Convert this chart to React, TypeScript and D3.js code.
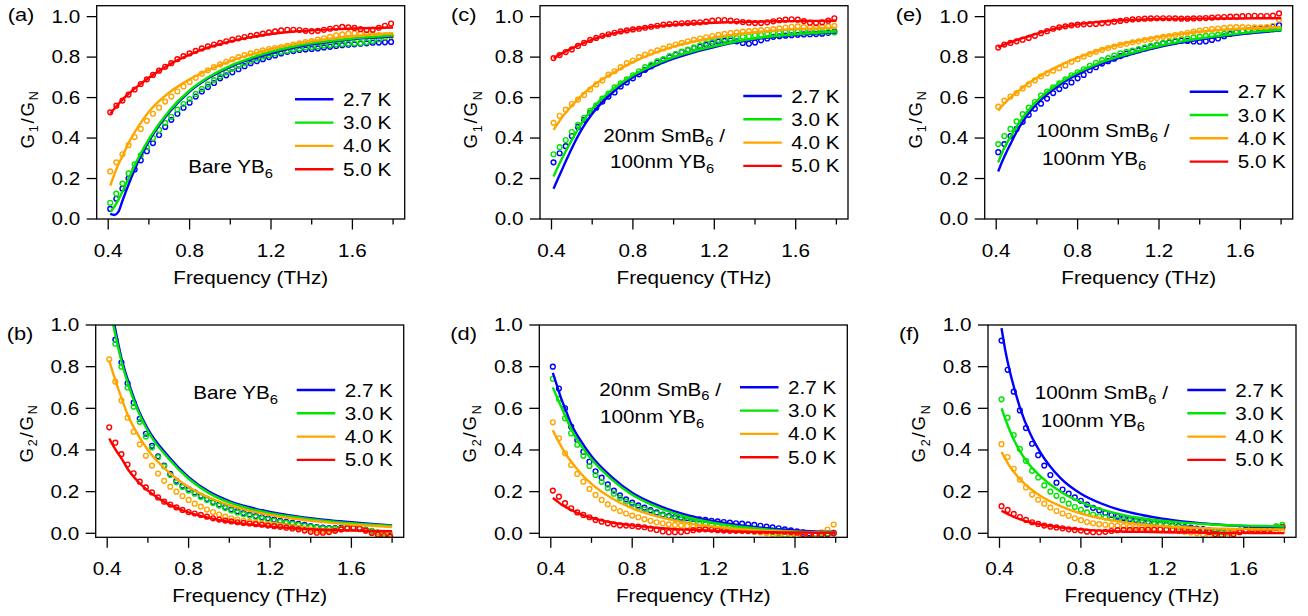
import React from "react";
import * as d3 from "d3";

// measured frequencies of the data points (THz)
const freq = [0.41, 0.44, 0.47, 0.50, 0.53, 0.56, 0.59, 0.62, 0.65, 0.68, 0.71, 0.74, 0.77, 0.80, 0.83, 0.86, 0.89, 0.92, 0.95, 0.98, 1.01, 1.04, 1.07, 1.10, 1.13, 1.16, 1.19, 1.22, 1.25, 1.28, 1.31, 1.34, 1.37, 1.40, 1.43, 1.46, 1.49, 1.52, 1.55, 1.58, 1.61, 1.64, 1.67, 1.70, 1.73, 1.76, 1.79];
// frequencies at which the fit curves are sampled
const fitFreq = [0.41, 0.43, 0.45, 0.47, 0.5, 0.55, 0.6, 0.7, 0.8, 0.9, 1.0, 1.1, 1.2, 1.3, 1.4, 1.5, 1.6, 1.7, 1.8];

const temps = ["2.7 K", "3.0 K", "4.0 K", "5.0 K"];
const colors = ["#0000ff", "#00e600", "#ffa500", "#ff0000"];
const xTicks = [0.4, 0.8, 1.2, 1.6];
const xMinor = [0.6, 1.0, 1.4, 1.8];
const yTicks = [0, 0.2, 0.4, 0.6, 0.8, 1.0];

// (a) G1/GN bare YB6
const a27 = [0.05, 0.10, 0.15, 0.20, 0.245, 0.29, 0.335, 0.375, 0.415, 0.455, 0.49, 0.52, 0.55, 0.575, 0.605, 0.63, 0.652, 0.672, 0.695, 0.71, 0.725, 0.74, 0.755, 0.77, 0.78, 0.79, 0.80, 0.808, 0.818, 0.826, 0.83, 0.835, 0.838, 0.84, 0.843, 0.848, 0.851, 0.855, 0.859, 0.861, 0.863, 0.866, 0.868, 0.871, 0.872, 0.873, 0.875];
const a30 = [0.08, 0.125, 0.175, 0.225, 0.27, 0.315, 0.355, 0.40, 0.44, 0.475, 0.505, 0.54, 0.568, 0.593, 0.618, 0.643, 0.665, 0.686, 0.705, 0.725, 0.742, 0.757, 0.77, 0.782, 0.793, 0.803, 0.81, 0.818, 0.826, 0.832, 0.838, 0.843, 0.847, 0.85, 0.853, 0.857, 0.86, 0.863, 0.865, 0.867, 0.868, 0.87, 0.874, 0.88, 0.888, 0.897, 0.904];
const a40 = [0.235, 0.28, 0.32, 0.365, 0.405, 0.445, 0.485, 0.52, 0.55, 0.58, 0.605, 0.63, 0.655, 0.677, 0.698, 0.718, 0.735, 0.75, 0.764, 0.777, 0.789, 0.80, 0.81, 0.818, 0.826, 0.833, 0.84, 0.845, 0.85, 0.856, 0.862, 0.868, 0.874, 0.879, 0.886, 0.893, 0.90, 0.907, 0.912, 0.916, 0.917, 0.916, 0.914, 0.911, 0.909, 0.907, 0.905];
const a50 = [0.527, 0.56, 0.585, 0.615, 0.64, 0.667, 0.69, 0.712, 0.733, 0.752, 0.77, 0.79, 0.805, 0.818, 0.831, 0.843, 0.853, 0.862, 0.87, 0.878, 0.886, 0.893, 0.899, 0.905, 0.91, 0.916, 0.922, 0.927, 0.932, 0.935, 0.935, 0.934, 0.93, 0.928, 0.93, 0.935, 0.94, 0.945, 0.949, 0.947, 0.944, 0.938, 0.934, 0.935, 0.945, 0.955, 0.966];
const aFit27 = [0.025, 0.02, 0.035, 0.09, 0.17, 0.29, 0.385, 0.528, 0.63, 0.70, 0.752, 0.79, 0.82, 0.845, 0.863, 0.877, 0.888, 0.896, 0.902];
const aFit30 = [0.035, 0.06, 0.095, 0.135, 0.2, 0.305, 0.395, 0.535, 0.635, 0.705, 0.757, 0.795, 0.826, 0.85, 0.868, 0.881, 0.892, 0.90, 0.906];
const aFit40 = [0.165, 0.22, 0.27, 0.31, 0.375, 0.46, 0.53, 0.625, 0.69, 0.74, 0.78, 0.812, 0.84, 0.862, 0.878, 0.892, 0.903, 0.912, 0.918];
const aFit50 = [0.52, 0.545, 0.568, 0.59, 0.618, 0.66, 0.698, 0.763, 0.812, 0.85, 0.878, 0.899, 0.914, 0.925, 0.932, 0.937, 0.941, 0.944, 0.946];

// (c) G1/GN 20nm SmB6 / 100nm YB6
const c27 = [0.28, 0.325, 0.36, 0.41, 0.455, 0.49, 0.525, 0.55, 0.58, 0.605, 0.625, 0.655, 0.675, 0.695, 0.715, 0.737, 0.755, 0.772, 0.785, 0.80, 0.812, 0.825, 0.835, 0.845, 0.852, 0.86, 0.868, 0.876, 0.88, 0.882, 0.878, 0.87, 0.866, 0.872, 0.883, 0.892, 0.90, 0.903, 0.906, 0.908, 0.91, 0.912, 0.913, 0.914, 0.916, 0.92, 0.926];
const c30 = [0.32, 0.355, 0.39, 0.43, 0.465, 0.50, 0.535, 0.562, 0.595, 0.62, 0.65, 0.67, 0.69, 0.71, 0.73, 0.75, 0.763, 0.78, 0.79, 0.805, 0.815, 0.827, 0.837, 0.848, 0.858, 0.868, 0.877, 0.885, 0.888, 0.892, 0.895, 0.90, 0.903, 0.907, 0.91, 0.915, 0.918, 0.92, 0.922, 0.924, 0.926, 0.926, 0.926, 0.926, 0.926, 0.925, 0.922];
const c40 = [0.475, 0.51, 0.54, 0.568, 0.59, 0.613, 0.64, 0.665, 0.685, 0.713, 0.73, 0.75, 0.77, 0.783, 0.80, 0.812, 0.823, 0.833, 0.843, 0.853, 0.862, 0.87, 0.878, 0.885, 0.892, 0.898, 0.904, 0.91, 0.915, 0.919, 0.922, 0.926, 0.928, 0.931, 0.933, 0.935, 0.938, 0.942, 0.946, 0.95, 0.952, 0.948, 0.946, 0.947, 0.95, 0.952, 0.954];
const c50 = [0.795, 0.81, 0.825, 0.838, 0.855, 0.87, 0.885, 0.895, 0.905, 0.913, 0.92, 0.927, 0.932, 0.937, 0.94, 0.945, 0.95, 0.955, 0.96, 0.963, 0.965, 0.967, 0.968, 0.97, 0.972, 0.975, 0.98, 0.983, 0.983, 0.98, 0.977, 0.973, 0.97, 0.968, 0.968, 0.972, 0.977, 0.982, 0.985, 0.987, 0.985, 0.978, 0.97, 0.968, 0.972, 0.98, 0.992];
const cFit27 = [0.15, 0.195, 0.24, 0.285, 0.35, 0.445, 0.52, 0.625, 0.70, 0.752, 0.792, 0.824, 0.85, 0.872, 0.888, 0.90, 0.91, 0.917, 0.923];
const cFit30 = [0.21, 0.255, 0.295, 0.335, 0.39, 0.475, 0.545, 0.64, 0.71, 0.76, 0.80, 0.83, 0.855, 0.876, 0.892, 0.904, 0.913, 0.92, 0.926];
const cFit40 = [0.44, 0.47, 0.50, 0.525, 0.56, 0.612, 0.655, 0.72, 0.775, 0.818, 0.852, 0.877, 0.897, 0.912, 0.923, 0.932, 0.938, 0.942, 0.945];
const cFit50 = [0.795, 0.806, 0.818, 0.828, 0.843, 0.866, 0.886, 0.916, 0.937, 0.951, 0.96, 0.966, 0.97, 0.973, 0.975, 0.977, 0.978, 0.979, 0.98];

// (e) G1/GN 100nm SmB6 / 100nm YB6
const e27 = [0.33, 0.37, 0.41, 0.445, 0.48, 0.515, 0.545, 0.57, 0.595, 0.622, 0.642, 0.658, 0.675, 0.695, 0.712, 0.735, 0.75, 0.768, 0.78, 0.792, 0.805, 0.817, 0.827, 0.834, 0.843, 0.85, 0.86, 0.868, 0.873, 0.877, 0.881, 0.88, 0.877, 0.876, 0.878, 0.885, 0.892, 0.903, 0.915, 0.922, 0.928, 0.933, 0.937, 0.94, 0.943, 0.95, 0.958];
const e30 = [0.37, 0.41, 0.445, 0.482, 0.518, 0.55, 0.578, 0.61, 0.63, 0.65, 0.67, 0.69, 0.71, 0.725, 0.74, 0.757, 0.772, 0.785, 0.795, 0.808, 0.818, 0.826, 0.832, 0.84, 0.848, 0.855, 0.862, 0.869, 0.875, 0.881, 0.887, 0.892, 0.897, 0.901, 0.905, 0.908, 0.911, 0.915, 0.92, 0.924, 0.928, 0.931, 0.932, 0.933, 0.935, 0.937, 0.939];
const e40 = [0.555, 0.585, 0.605, 0.622, 0.645, 0.665, 0.685, 0.705, 0.72, 0.733, 0.745, 0.76, 0.777, 0.79, 0.803, 0.815, 0.826, 0.836, 0.845, 0.852, 0.86, 0.866, 0.873, 0.878, 0.884, 0.889, 0.894, 0.90, 0.904, 0.909, 0.914, 0.92, 0.926, 0.931, 0.935, 0.938, 0.941, 0.944, 0.947, 0.948, 0.948, 0.947, 0.947, 0.947, 0.948, 0.955, 0.985];
const e50 = [0.847, 0.862, 0.87, 0.878, 0.886, 0.895, 0.905, 0.918, 0.928, 0.94, 0.947, 0.952, 0.957, 0.96, 0.962, 0.963, 0.964, 0.967, 0.97, 0.975, 0.979, 0.983, 0.986, 0.988, 0.99, 0.991, 0.992, 0.992, 0.992, 0.991, 0.99, 0.99, 0.991, 0.992, 0.993, 0.995, 0.997, 0.998, 1.0, 1.0, 1.002, 1.003, 1.004, 1.003, 1.003, 1.005, 1.016];
const eFit27 = [0.235, 0.285, 0.33, 0.37, 0.43, 0.51, 0.57, 0.655, 0.715, 0.76, 0.795, 0.825, 0.85, 0.87, 0.887, 0.901, 0.913, 0.923, 0.932];
const eFit30 = [0.28, 0.33, 0.37, 0.405, 0.455, 0.527, 0.584, 0.665, 0.724, 0.768, 0.802, 0.83, 0.855, 0.875, 0.892, 0.905, 0.917, 0.927, 0.935];
const eFit40 = [0.535, 0.56, 0.58, 0.60, 0.625, 0.665, 0.698, 0.753, 0.797, 0.832, 0.86, 0.882, 0.90, 0.914, 0.925, 0.934, 0.94, 0.945, 0.948];
const eFit50 = [0.848, 0.858, 0.866, 0.873, 0.884, 0.90, 0.916, 0.943, 0.962, 0.974, 0.981, 0.985, 0.988, 0.989, 0.99, 0.991, 0.991, 0.992, 0.992];

// (b) G2/GN bare YB6
const b27 = [1.06, 0.93, 0.82, 0.72, 0.627, 0.55, 0.478, 0.42, 0.37, 0.325, 0.285, 0.252, 0.228, 0.212, 0.196, 0.18, 0.165, 0.15, 0.138, 0.126, 0.115, 0.106, 0.097, 0.09, 0.083, 0.077, 0.072, 0.066, 0.06, 0.055, 0.05, 0.045, 0.04, 0.035, 0.03, 0.027, 0.025, 0.025, 0.026, 0.027, 0.028, 0.025, 0.018, 0.01, 0.002, -0.005, -0.012];
const b30 = [1.03, 0.91, 0.80, 0.70, 0.608, 0.535, 0.465, 0.412, 0.365, 0.322, 0.28, 0.245, 0.222, 0.205, 0.19, 0.174, 0.16, 0.146, 0.133, 0.121, 0.11, 0.10, 0.092, 0.085, 0.078, 0.072, 0.066, 0.06, 0.055, 0.05, 0.045, 0.04, 0.035, 0.031, 0.027, 0.024, 0.022, 0.022, 0.023, 0.025, 0.025, 0.022, 0.017, 0.012, 0.005, 0.0, -0.005];
const b40 = [0.835, 0.728, 0.637, 0.555, 0.488, 0.427, 0.372, 0.325, 0.287, 0.252, 0.224, 0.20, 0.179, 0.16, 0.142, 0.128, 0.114, 0.102, 0.09, 0.08, 0.072, 0.066, 0.06, 0.056, 0.052, 0.048, 0.045, 0.042, 0.038, 0.034, 0.03, 0.026, 0.022, 0.018, 0.014, 0.012, 0.012, 0.014, 0.018, 0.022, 0.024, 0.02, 0.012, 0.005, 0.0, -0.003, -0.004];
const b50 = [0.509, 0.435, 0.38, 0.33, 0.288, 0.248, 0.22, 0.196, 0.172, 0.152, 0.138, 0.124, 0.112, 0.102, 0.095, 0.088, 0.08, 0.072, 0.066, 0.061, 0.057, 0.053, 0.05, 0.047, 0.044, 0.041, 0.037, 0.034, 0.031, 0.027, 0.023, 0.019, 0.013, 0.007, 0.003, 0.003, 0.006, 0.012, 0.019, 0.024, 0.026, 0.023, 0.013, 0.002, -0.007, -0.013, -0.016];
const bFit27 = [1.15, 1.03, 0.93, 0.84, 0.74, 0.60, 0.50, 0.37, 0.27, 0.20, 0.155, 0.125, 0.103, 0.086, 0.073, 0.062, 0.053, 0.045, 0.038];
const bFit30 = [1.11, 1.0, 0.91, 0.825, 0.725, 0.59, 0.49, 0.36, 0.262, 0.193, 0.148, 0.118, 0.097, 0.081, 0.068, 0.057, 0.048, 0.041, 0.035];
const bFit40 = [0.83, 0.765, 0.705, 0.65, 0.57, 0.475, 0.40, 0.295, 0.222, 0.172, 0.135, 0.108, 0.088, 0.072, 0.06, 0.05, 0.042, 0.036, 0.03];
const bFit50 = [0.455, 0.42, 0.388, 0.36, 0.31, 0.25, 0.205, 0.14, 0.10, 0.074, 0.055, 0.042, 0.032, 0.025, 0.02, 0.016, 0.013, 0.011, 0.01];

// (d) G2/GN 20nm SmB6 / 100nm YB6
const d27 = [0.80, 0.695, 0.60, 0.512, 0.448, 0.392, 0.344, 0.298, 0.267, 0.235, 0.205, 0.182, 0.163, 0.147, 0.134, 0.123, 0.111, 0.10, 0.09, 0.083, 0.078, 0.075, 0.073, 0.07, 0.067, 0.064, 0.06, 0.057, 0.054, 0.051, 0.048, 0.046, 0.043, 0.04, 0.036, 0.032, 0.028, 0.024, 0.019, 0.014, 0.009, 0.004, 0.0, -0.004, -0.005, -0.004, 0.0];
const d30 = [0.742, 0.645, 0.552, 0.48, 0.425, 0.372, 0.323, 0.28, 0.247, 0.218, 0.19, 0.17, 0.152, 0.138, 0.125, 0.114, 0.104, 0.095, 0.086, 0.078, 0.071, 0.065, 0.06, 0.055, 0.05, 0.045, 0.041, 0.037, 0.033, 0.03, 0.027, 0.024, 0.021, 0.018, 0.014, 0.01, 0.005, 0.0, -0.008, -0.015, -0.012, -0.008, -0.006, -0.004, -0.002, 0.0, 0.002];
const d40 = [0.533, 0.456, 0.384, 0.328, 0.285, 0.248, 0.213, 0.184, 0.16, 0.139, 0.12, 0.107, 0.095, 0.085, 0.077, 0.068, 0.06, 0.053, 0.048, 0.043, 0.04, 0.037, 0.035, 0.032, 0.03, 0.028, 0.025, 0.022, 0.02, 0.017, 0.015, 0.012, 0.01, 0.007, 0.004, 0.0, -0.005, -0.01, -0.015, -0.02, -0.016, -0.012, -0.01, -0.005, 0.005, 0.018, 0.042];
const d50 = [0.205, 0.176, 0.145, 0.12, 0.10, 0.088, 0.077, 0.064, 0.056, 0.048, 0.043, 0.038, 0.037, 0.035, 0.032, 0.029, 0.022, 0.016, 0.009, 0.005, 0.005, 0.006, 0.01, 0.015, 0.018, 0.019, 0.017, 0.015, 0.013, 0.012, 0.012, 0.012, 0.011, 0.01, 0.01, 0.01, 0.01, 0.009, 0.008, 0.006, 0.003, -0.003, -0.008, -0.01, -0.009, -0.006, 0.002];
const dFit27 = [0.77, 0.71, 0.65, 0.60, 0.525, 0.44, 0.37, 0.27, 0.195, 0.145, 0.108, 0.08, 0.058, 0.042, 0.03, 0.021, 0.014, 0.009, 0.006];
const dFit30 = [0.70, 0.655, 0.61, 0.565, 0.50, 0.42, 0.355, 0.258, 0.185, 0.135, 0.098, 0.07, 0.05, 0.035, 0.024, 0.015, 0.009, 0.005, 0.003];
const dFit40 = [0.495, 0.455, 0.42, 0.385, 0.345, 0.285, 0.237, 0.168, 0.12, 0.087, 0.063, 0.045, 0.032, 0.022, 0.015, 0.01, 0.006, 0.003, 0.002];
const dFit50 = [0.17, 0.155, 0.14, 0.128, 0.112, 0.09, 0.074, 0.052, 0.038, 0.028, 0.021, 0.016, 0.012, 0.009, 0.007, 0.005, 0.004, 0.003, 0.002];

// (f) G2/GN 100nm SmB6 / 100nm YB6
const f27 = [0.925, 0.785, 0.68, 0.59, 0.505, 0.43, 0.375, 0.325, 0.28, 0.243, 0.21, 0.19, 0.172, 0.156, 0.138, 0.122, 0.11, 0.098, 0.088, 0.08, 0.074, 0.069, 0.064, 0.059, 0.054, 0.05, 0.046, 0.042, 0.038, 0.034, 0.03, 0.027, 0.023, 0.02, 0.015, 0.01, 0.008, 0.008, 0.01, 0.013, 0.016, 0.018, 0.02, 0.02, 0.022, 0.026, 0.03];
const f30 = [0.643, 0.555, 0.472, 0.405, 0.348, 0.30, 0.268, 0.23, 0.20, 0.18, 0.16, 0.142, 0.126, 0.113, 0.10, 0.09, 0.082, 0.076, 0.071, 0.067, 0.063, 0.059, 0.055, 0.051, 0.047, 0.044, 0.041, 0.038, 0.034, 0.03, 0.026, 0.022, 0.018, 0.015, 0.011, 0.007, 0.005, 0.005, 0.007, 0.01, 0.013, 0.016, 0.018, 0.02, 0.024, 0.034, 0.04];
const f40 = [0.428, 0.366, 0.31, 0.258, 0.22, 0.186, 0.161, 0.142, 0.123, 0.107, 0.095, 0.084, 0.072, 0.063, 0.054, 0.048, 0.044, 0.041, 0.038, 0.036, 0.034, 0.032, 0.03, 0.028, 0.026, 0.024, 0.021, 0.018, 0.015, 0.012, 0.008, 0.004, 0.0, -0.005, -0.01, -0.008, -0.004, 0.0, 0.004, 0.008, 0.01, 0.012, 0.014, 0.015, 0.015, 0.015, 0.015];
const f50 = [0.13, 0.112, 0.093, 0.078, 0.064, 0.053, 0.045, 0.037, 0.032, 0.028, 0.024, 0.019, 0.016, 0.013, 0.008, 0.005, 0.005, 0.007, 0.011, 0.015, 0.016, 0.016, 0.016, 0.017, 0.017, 0.017, 0.018, 0.018, 0.019, 0.02, 0.02, 0.02, 0.018, 0.012, 0.005, -0.003, -0.01, -0.012, -0.005, 0.005, 0.013, 0.02, 0.021, 0.02, 0.022, 0.026, 0.03];
const fFit27 = [0.985, 0.87, 0.78, 0.705, 0.605, 0.48, 0.39, 0.265, 0.19, 0.143, 0.11, 0.088, 0.07, 0.057, 0.047, 0.04, 0.035, 0.031, 0.028];
const fFit30 = [0.60, 0.545, 0.495, 0.45, 0.395, 0.325, 0.275, 0.20, 0.15, 0.115, 0.09, 0.072, 0.06, 0.051, 0.045, 0.04, 0.037, 0.035, 0.033];
const fFit40 = [0.39, 0.355, 0.322, 0.295, 0.26, 0.215, 0.18, 0.13, 0.095, 0.072, 0.055, 0.043, 0.035, 0.029, 0.025, 0.022, 0.02, 0.019, 0.018];
const fFit50 = [0.108, 0.098, 0.088, 0.079, 0.068, 0.053, 0.042, 0.028, 0.019, 0.013, 0.009, 0.007, 0.005, 0.004, 0.003, 0.002, 0.002, 0.001, 0.001];

const FONT = "'Liberation Sans', Arial, Helvetica, sans-serif";
const SX = 1.18; // the original lettering is a bit wide
const FS = 17.5;
const PW = 308;

type Seg = { t: string; sub?: boolean };

const bare: Seg[][] = [[{ t: "Bare YB" }, { t: "6", sub: true }]];
const sm20: Seg[][] = [[{ t: "20nm SmB" }, { t: "6", sub: true }, { t: " /" }], [{ t: "100nm YB" }, { t: "6", sub: true }]];
const sm100: Seg[][] = [[{ t: "100nm SmB" }, { t: "6", sub: true }, { t: " /" }], [{ t: "100nm YB" }, { t: "6", sub: true }]];

const rows = [
  { top: 5.7, bottom: 219, yDomain: [0, 1.054], g: "1", titleY: 119 },
  { top: 325, bottom: 537.3, yDomain: [-0.0192, 1.0], g: "2", titleY: 433 },
];

const panels = [
  { tag: "(a)", row: 0, left: 96.7, pts: [a27, a30, a40, a50], fits: [aFit27, aFit30, aFit40, aFit50], legend: [198.3, 93.6], note: bare, notePos: [[91.6, 167.6]] },
  { tag: "(c)", row: 0, left: 540, pts: [c27, c30, c40, c50], fits: [cFit27, cFit30, cFit40, cFit50], legend: [203.3, 90.3], note: sm20, notePos: [[63.3, 136], [70, 162.6]] },
  { tag: "(e)", row: 0, left: 984.7, pts: [e27, e30, e40, e50], fits: [eFit27, eFit30, eFit40, eFit50], legend: [205, 86], note: sm100, notePos: [[51.6, 131.6], [57.3, 159.3]] },
  { tag: "(b)", row: 1, left: 95.7, pts: [b27, b30, b40, b50], fits: [bFit27, bFit30, bFit40, bFit50], legend: [201, 65], note: bare, notePos: [[97.6, 74]] },
  { tag: "(d)", row: 1, left: 539.3, pts: [d27, d30, d40, d50], fits: [dFit27, dFit30, dFit40, dFit50], legend: [200.7, 62.3], note: sm20, notePos: [[60, 70.7], [60.7, 98.3]] },
  { tag: "(f)", row: 1, left: 988, pts: [f27, f30, f40, f50], fits: [fFit27, fFit30, fFit40, fFit50], legend: [199.3, 65], note: sm100, notePos: [[46.7, 74.3], [52.7, 101.7]] },
];

function segs(list: Seg[]) {
  return list.map((s, i) =>
    s.sub ? (
      <tspan key={i} dy={4.5} fontSize={12.5}>{s.t}</tspan>
    ) : (
      <tspan key={i} dy={i > 0 && list[i - 1].sub ? -4.5 : 0}>{s.t}</tspan>
    )
  );
}

function Txt({ x, y, anchor = "start", size = FS, children }: any) {
  return (
    <text
      transform={`translate(${x},${y}) scale(${SX},1)`}
      textAnchor={anchor}
      fontSize={size}
      fontFamily={FONT}
      style={{ whiteSpace: "pre" }}
      fill="#000"
    >
      {children}
    </text>
  );
}

function Panel({ p, idx }: any) {
  const r = rows[p.row];
  const H = r.bottom - r.top;
  const x = d3.scaleLinear().domain([0.3435, 1.857]).range([0, PW]);
  const y = d3.scaleLinear().domain(r.yDomain).range([H, 0]);
  const line = d3
    .line<number>()
    .x((d, i) => x(fitFreq[i]))
    .y((d) => y(d))
    .curve(d3.curveMonotoneX);
  const clip = `clip-${idx}`;
  const [lx, ly] = p.legend;

  return (
    <g transform={`translate(${p.left},${r.top})`}>
      <defs>
        <clipPath id={clip}>
          <rect x={0} y={0} width={PW} height={H} />
        </clipPath>
      </defs>

      <g clipPath={`url(#${clip})`}>
        {p.pts.map((vals: number[], s: number) => (
          <g key={s} fill="none" stroke={colors[s]} strokeWidth={1.4}>
            {vals.map((v, i) => (
              <circle key={i} cx={x(freq[i])} cy={y(v)} r={2.4} />
            ))}
          </g>
        ))}
        {p.fits.map((vals: number[], s: number) => (
          <path key={s} d={line(vals) || ""} fill="none" stroke={colors[s]} strokeWidth={2.4} />
        ))}
      </g>

      {/* frame */}
      <rect x={0} y={0} width={PW} height={H} fill="none" stroke="#000" strokeWidth={1.3} />

      {/* y ticks */}
      {yTicks.map((t) => (
        <g key={t}>
          <line x1={-10} x2={0} y1={y(t)} y2={y(t)} stroke="#000" strokeWidth={1.3} />
          <Txt x={-16.5} y={y(t) + 6.2} anchor="end">{d3.format(".1f")(t)}</Txt>
        </g>
      ))}

      {/* x ticks */}
      {xTicks.map((t) => (
        <g key={t}>
          <line x1={x(t)} x2={x(t)} y1={H} y2={H + 10.5} stroke="#000" strokeWidth={1.3} />
          <Txt x={x(t)} y={H + 38} anchor="middle">{d3.format(".1f")(t)}</Txt>
        </g>
      ))}
      {xMinor.map((t) => (
        <line key={t} x1={x(t)} x2={x(t)} y1={H} y2={H + 5.5} stroke="#000" strokeWidth={1.3} />
      ))}

      <Txt x={PW / 2} y={H + 65} anchor="middle">Frequency (THz)</Txt>

      {/* y title */}
      <text
        transform={`translate(-63,${r.titleY - r.top}) rotate(-90)`}
        textAnchor="middle"
        fontSize={18.5}
        fontFamily={FONT}
        letterSpacing={1.8}
      >
        G<tspan dy={4.5} fontSize={12.5}>{r.g}</tspan>
        <tspan dy={-4.5}>/G</tspan>
        <tspan dy={4.5} fontSize={12.5}>N</tspan>
      </text>

      <Txt x={-89} y={15} size={18.5}>{p.tag}</Txt>

      {/* legend */}
      {temps.map((t, s) => (
        <g key={t}>
          <line x1={lx} x2={lx + 38.5} y1={ly + s * 23.3} y2={ly + s * 23.3} stroke={colors[s]} strokeWidth={2.4} />
          <Txt x={lx + 48} y={ly + s * 23.3 + 6.5}>{t}</Txt>
        </g>
      ))}

      {/* sample label */}
      {p.note.map((ln: Seg[], k: number) => (
        <Txt key={k} x={p.notePos[k][0]} y={p.notePos[k][1]}>{segs(ln)}</Txt>
      ))}
    </g>
  );
}

export default function App() {
  return (
    <svg width={1308} height={616} style={{ display: "block", position: "absolute", left: 0, top: 0, background: "#fff" }}>
      <rect width={1308} height={616} fill="#fff" />
      {panels.map((p, i) => (
        <Panel key={p.tag} p={p} idx={i} />
      ))}
    </svg>
  );
}
